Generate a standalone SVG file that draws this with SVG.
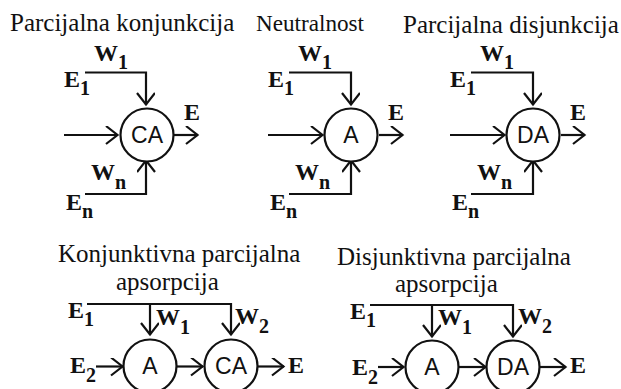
<svg xmlns="http://www.w3.org/2000/svg" width="621" height="389" viewBox="0 0 621 389">
<style>
text{fill:#111}
.t{font:25px "Liberation Serif",serif}
.b{font:bold 24px "Liberation Serif",serif}
.s{font:bold 20px "Liberation Serif",serif}
.n{font:23px "Liberation Sans",sans-serif;text-anchor:middle}
circle{fill:#fff;stroke:#111;stroke-width:2.2}
path{fill:none;stroke:#111;stroke-width:2.2}
</style>
<defs><marker id="a" markerUnits="userSpaceOnUse" markerWidth="18" markerHeight="20" refX="15" refY="9" orient="auto"><path d="M3 0L14.500 9L3 18"/></marker></defs>
<g id="connectors">
<path d="M85 72.500H146V105" marker-end="url(#a)"/>
<path d="M64 135H118" marker-end="url(#a)"/>
<path d="M174 135H198" marker-end="url(#a)"/>
<path d="M85 194H146V160" marker-end="url(#a)"/>
<path d="M289 72.500H351V105" marker-end="url(#a)"/>
<path d="M268 135H323" marker-end="url(#a)"/>
<path d="M379 135H403" marker-end="url(#a)"/>
<path d="M289 194H351V160" marker-end="url(#a)"/>
<path d="M471 72.500H533V105" marker-end="url(#a)"/>
<path d="M450 135H505" marker-end="url(#a)"/>
<path d="M561 135H585" marker-end="url(#a)"/>
<path d="M471 194H533V160" marker-end="url(#a)"/>
<path d="M87 304H231V335" marker-end="url(#a)"/>
<path d="M150 304V335" marker-end="url(#a)"/>
<path d="M96 366.500H123" marker-end="url(#a)"/>
<path d="M177 366.500H203" marker-end="url(#a)"/>
<path d="M257 366.500H284" marker-end="url(#a)"/>
<path d="M370 305H513V337" marker-end="url(#a)"/>
<path d="M432 305V337" marker-end="url(#a)"/>
<path d="M378 367H404" marker-end="url(#a)"/>
<path d="M459 367H486" marker-end="url(#a)"/>
<path d="M540 367H566" marker-end="url(#a)"/>
</g>
<g id="title-1"><text class="t" x="10" y="31">Parcijalna konjunkcija</text></g>
<g id="title-2"><text class="t" x="256" y="31" style="font-size:24px" textLength="108" lengthAdjust="spacingAndGlyphs">Neutralnost</text></g>
<g id="title-3"><text class="t" x="403" y="33">Parcijalna disjunkcija</text></g>
<g id="title-4"><text class="t" x="58" y="262">Konjunktivna parcijalna</text><text class="t" x="116" y="290">apsorpcija</text></g>
<g id="title-5"><text class="t" x="337" y="265">Disjunktivna parcijalna</text><text class="t" x="395" y="292">apsorpcija</text></g>
<g id="node-ca1"><circle cx="147" cy="135" r="26.500"/><text class="n" x="147" y="143">CA</text></g>
<g id="node-a1"><circle cx="351" cy="135" r="26.500"/><text class="n" x="351" y="143">A</text></g>
<g id="node-da1"><circle cx="533" cy="135" r="26.500"/><text class="n" x="533" y="143">DA</text></g>
<g id="node-a2"><circle cx="150" cy="366" r="26.500"/><text class="n" x="150" y="374">A</text></g>
<g id="node-ca2"><circle cx="231" cy="366" r="26.500"/><text class="n" x="231" y="374">CA</text></g>
<g id="node-a3"><circle cx="432" cy="367" r="26.500"/><text class="n" x="432" y="375">A</text></g>
<g id="node-da2"><circle cx="513" cy="367" r="26.500"/><text class="n" x="513" y="375">DA</text></g>
<g id="labels">
<text class="b" x="94" y="61">W<tspan class="s" dy="8">1</tspan></text>
<text class="b" x="64" y="87">E<tspan class="s" dy="8">1</tspan></text>
<text class="b" x="184" y="120">E</text>
<text class="b" x="91" y="180">W<tspan class="s" dy="9">n</tspan></text>
<text class="b" x="66" y="210">E<tspan class="s" dy="8">n</tspan></text>
<text class="b" x="298" y="61">W<tspan class="s" dy="8">1</tspan></text>
<text class="b" x="268" y="87">E<tspan class="s" dy="8">1</tspan></text>
<text class="b" x="388" y="120">E</text>
<text class="b" x="295" y="180">W<tspan class="s" dy="9">n</tspan></text>
<text class="b" x="270" y="210">E<tspan class="s" dy="8">n</tspan></text>
<text class="b" x="480" y="61">W<tspan class="s" dy="8">1</tspan></text>
<text class="b" x="450" y="87">E<tspan class="s" dy="8">1</tspan></text>
<text class="b" x="570" y="120">E</text>
<text class="b" x="477" y="180">W<tspan class="s" dy="9">n</tspan></text>
<text class="b" x="452" y="210">E<tspan class="s" dy="8">n</tspan></text>
<text class="b" x="68" y="318">E<tspan class="s" dy="8">1</tspan></text>
<text class="b" x="156" y="325">W<tspan class="s" dy="9">1</tspan></text>
<text class="b" x="235" y="324">W<tspan class="s" dy="9">2</tspan></text>
<text class="b" x="70" y="373">E<tspan class="s" dy="9">2</tspan></text>
<text class="b" x="288" y="373">E</text>
<text class="b" x="350" y="319">E<tspan class="s" dy="8">1</tspan></text>
<text class="b" x="438" y="325">W<tspan class="s" dy="9">1</tspan></text>
<text class="b" x="518" y="324">W<tspan class="s" dy="9">2</tspan></text>
<text class="b" x="352" y="375">E<tspan class="s" dy="9">2</tspan></text>
<text class="b" x="570" y="373">E</text>
</g>
</svg>
